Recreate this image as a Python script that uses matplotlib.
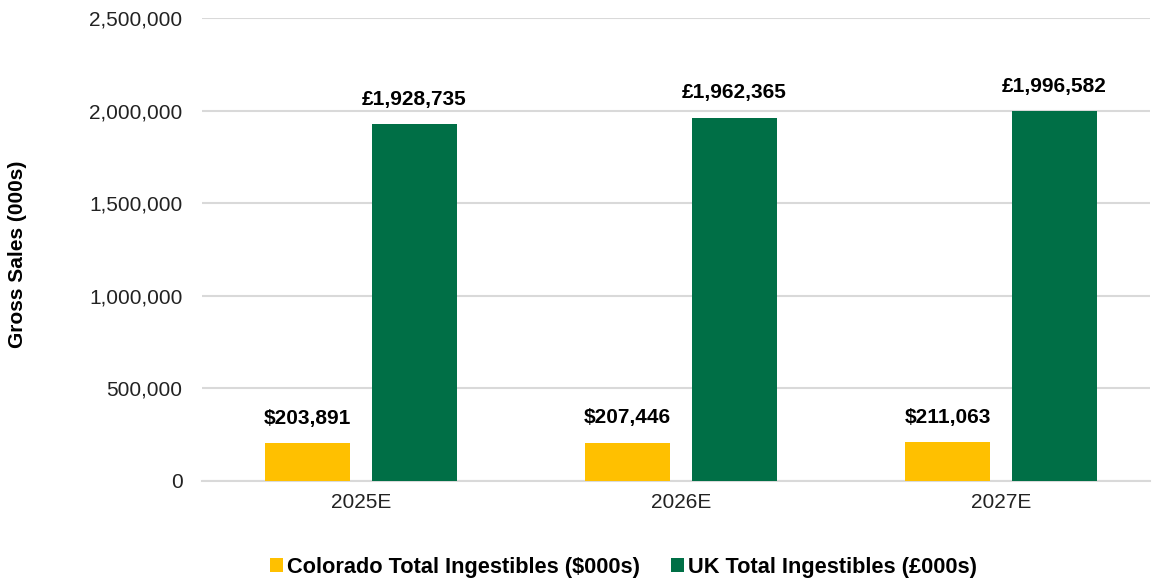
import numpy as np
import matplotlib.pyplot as plt

plt.rcParams['font.family'] = ['Liberation Sans', 'DejaVu Sans']

years = ["2025E", "2026E", "2027E"]
colorado = [203891, 207446, 211063]
uk = [1928735, 1962365, 1996582]
series_names = ["Colorado Total Ingestibles ($000s)", "UK Total Ingestibles (£000s)"]
yticks = [0, 500000, 1000000, 1500000, 2000000, 2500000]

YELLOW = "#FFC000"
GREEN = "#006F46"
GRID = "#D9D9D9"

fig = plt.figure(figsize=(11.55, 5.82), dpi=100)
ax = fig.add_axes([202 / 1155, 1 - 481 / 582, (1150 - 202) / 1155, (481 - 18) / 582])

x = np.arange(len(years))
w = 0.266
off = 0.167
b1 = ax.bar(x - off, colorado, w, color=YELLOW, label=series_names[0], zorder=3)
b2 = ax.bar(x + off, uk, w, color=GREEN, label=series_names[1], zorder=3)

for rect, v in zip(b1, colorado):
    ax.annotate(f"${v:,}", (rect.get_x() + rect.get_width() / 2, v),
                xytext=(0, 11), textcoords="offset points", ha="center", va="bottom",
                fontsize=15, fontweight="bold")
for rect, v in zip(b2, uk):
    ax.annotate(f"£{v:,}", (rect.get_x() + rect.get_width() / 2, v),
                xytext=(0, 11), textcoords="offset points", ha="center", va="bottom",
                fontsize=15, fontweight="bold")

ax.set_xlim(-0.497, 2.466)
ax.set_ylim(0, 2500000)
ax.set_yticks(yticks)
ax.set_yticklabels([f"{t:,}" for t in yticks])
ax.set_xticks(x)
ax.set_xticklabels(years)
ax.tick_params(axis="y", length=0, pad=14, labelsize=15, colors="#222222")
ax.tick_params(axis="x", length=0, pad=9, labelsize=15, colors="#222222")
ax.yaxis.grid(True, color=GRID, linewidth=1.5, zorder=0)
ax.set_axisbelow(True)
for s in ["top", "right", "left"]:
    ax.spines[s].set_visible(False)
ax.spines["bottom"].set_color(GRID)
ax.spines["bottom"].set_linewidth(1.5)

fig.text(18 / 1155, 1 - 254 / 582, "Gross Sales (000s)", rotation=90, ha="center", va="center",
         fontsize=15, fontweight="bold")

leg = fig.legend(loc="center", bbox_to_anchor=(0.540, 1 - 567 / 582), ncol=2, frameon=False,
                 handlelength=0.6, handleheight=0.6, handletextpad=0.2, columnspacing=1.4,
                 prop={"size": 15.7, "weight": "bold"})

fig.savefig("out.png", dpi=100)
